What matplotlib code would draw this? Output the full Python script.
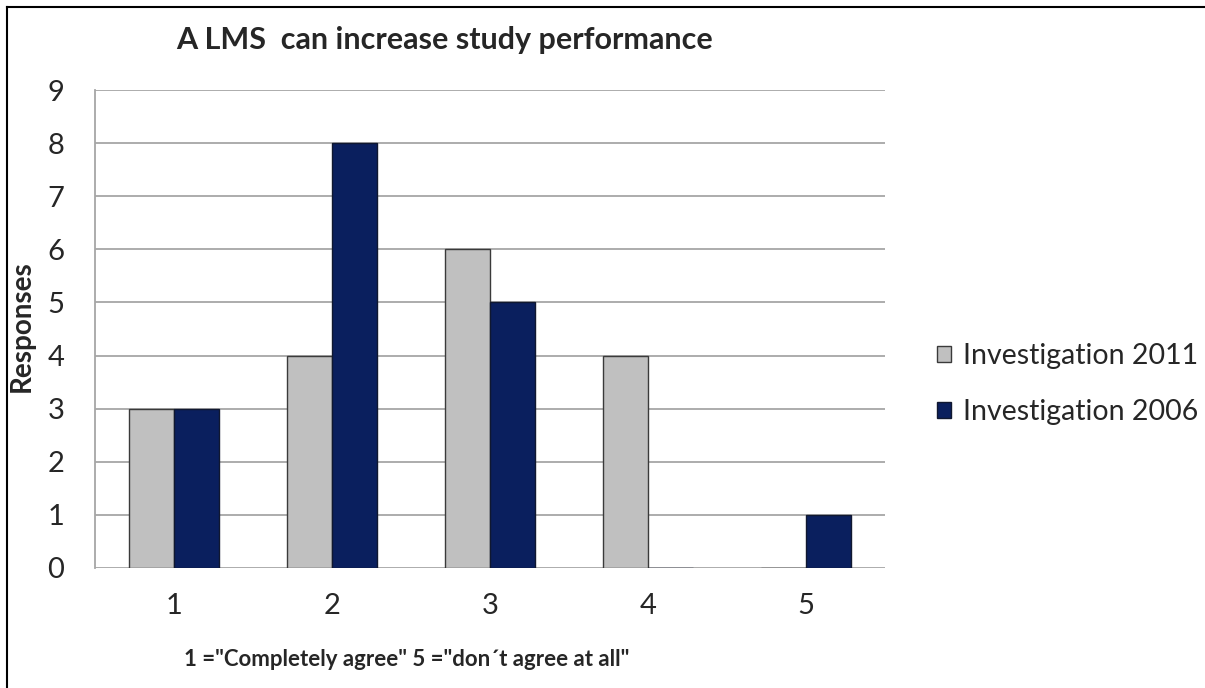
import numpy as np
import matplotlib
matplotlib.use("Agg")
import matplotlib.pyplot as plt
from matplotlib.lines import Line2D

plt.rcParams['font.family'] = ['Lato', 'DejaVu Sans']

categories = ["1", "2", "3", "4", "5"]
inv_2011 = [3, 4, 6, 4, 0]
inv_2006 = [3, 8, 5, 0, 1]
series_names = ["Investigation 2011", "Investigation 2006"]
y_ticks = list(range(0, 10))

gray = "#c0c0c0"
navy = "#0a1f5e"
text_col = "#262626"

fig = plt.figure(figsize=(12.05, 6.88), dpi=100)
ax = fig.add_axes([95 / 1205, 1 - 568 / 688, 790 / 1205, 478 / 688])

x = np.arange(1, len(categories) + 1)
w = 0.285
ax.bar(x - w / 2, inv_2011, width=w, color=gray, edgecolor="#3a3a3a",
       linewidth=1.0, label=series_names[0], zorder=3)
ax.bar(x + w / 2, inv_2006, width=w, color=navy, edgecolor="#101830",
       linewidth=1.0, label=series_names[1], zorder=3)

ax.set_xlim(0.5, 5.5)
ax.set_ylim(0, 9)
ax.set_yticks(y_ticks)
ax.set_xticks(x)
ax.set_xticklabels(categories)
ax.tick_params(axis="both", length=0, labelsize=21, colors=text_col)
ax.tick_params(axis="x", pad=18)
ax.tick_params(axis="y", pad=22)
ax.yaxis.grid(True, color="#a6a6a6", linewidth=1.3, zorder=0)
for s in ["top", "right", "bottom"]:
    ax.spines[s].set_visible(False)
ax.spines["left"].set_color("#a6a6a6")
ax.spines["left"].set_linewidth(1.3)

fig.text(445 / 1205, 1 - 40 / 688, "A LMS  can increase study performance",
         ha="center", va="center", fontsize=22, fontweight="bold", color=text_col)
fig.text(407 / 1205, 1 - 660 / 688, "1 =\"Completely agree\" 5 =\"don\u00b4t agree at all\"",
         ha="center", va="center", fontsize=16, fontweight="bold", color=text_col)
fig.text(22 / 1205, 1 - 326 / 688, "Responses", ha="center", va="center",
         rotation=90, fontsize=20, fontweight="bold", color=text_col)

leg = fig.legend(loc="center left", bbox_to_anchor=(937 / 1205, 1 - 384 / 688),
                 frameon=False, fontsize=20.5, handlelength=0.5, handleheight=0.5,
                 handletextpad=0.4, labelspacing=1.05, borderpad=0, borderaxespad=0)
for t in leg.get_texts():
    t.set_color(text_col)

# outer frame along the left and top edges
fig.add_artist(Line2D([7 / 1205, 7 / 1205], [0, 1 - 7 / 688], transform=fig.transFigure,
                      color="black", linewidth=1.5))
fig.add_artist(Line2D([7 / 1205, 1], [1 - 7 / 688, 1 - 7 / 688], transform=fig.transFigure,
                      color="black", linewidth=1.5))

fig.savefig("out.png", dpi=100, facecolor="white")
